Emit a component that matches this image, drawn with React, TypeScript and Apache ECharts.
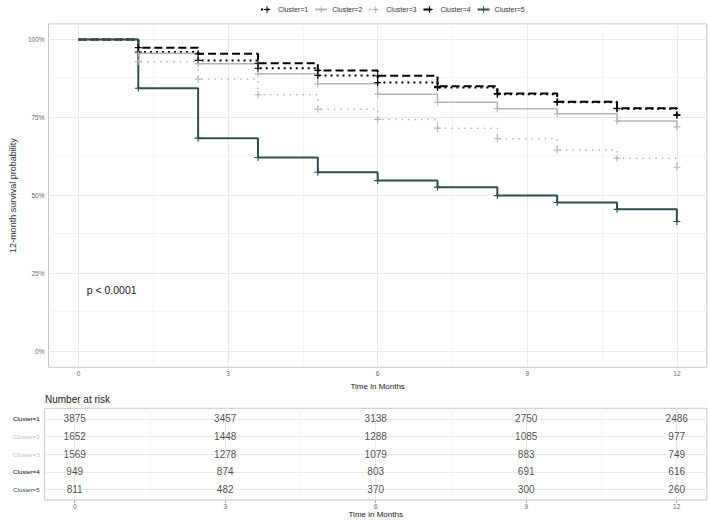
import React, { useEffect, useRef } from "react";
import * as echarts from "echarts";

// ---------- data ----------
const months = [0, 1.2, 2.4, 3.6, 4.8, 6, 7.2, 8.4, 9.6, 10.8, 12];
const cluster1 = [1, 0.96, 0.933, 0.908, 0.885, 0.862, 0.846, 0.825, 0.799, 0.778, 0.757];
const cluster2 = [1, 0.956, 0.922, 0.89, 0.858, 0.825, 0.799, 0.778, 0.762, 0.739, 0.72];
const cluster3 = [1, 0.929, 0.873, 0.823, 0.777, 0.744, 0.716, 0.682, 0.646, 0.62, 0.591];
const cluster4 = [1, 0.974, 0.954, 0.924, 0.901, 0.884, 0.85, 0.827, 0.801, 0.78, 0.759];
const cluster5 = [1, 0.844, 0.684, 0.622, 0.575, 0.548, 0.527, 0.5, 0.478, 0.456, 0.417];
const clusterNames = ["Cluster=1", "Cluster=2", "Cluster=3", "Cluster=4", "Cluster=5"];

const riskTimes = [0, 3, 6, 9, 12];
const risk1 = [3875, 3457, 3138, 2750, 2486];
const risk2 = [1652, 1448, 1288, 1085, 977];
const risk3 = [1569, 1278, 1079, 883, 749];
const risk4 = [949, 874, 803, 691, 616];
const risk5 = [811, 482, 370, 300, 260];

const xTicks = [0, 3, 6, 9, 12];
const xMinor = [1.5, 4.5, 7.5, 10.5];
const yTicks = [0, 0.25, 0.5, 0.75, 1];
const yMinor = [0.125, 0.375, 0.625, 0.875];
const riskRows = [1, 2, 3, 4, 5];

const pValueText = "p < 0.0001";
const riskTitle = "Number at risk";
const xTitle = "Time in Months";
const yTitle = "12-month survival probability";

// ---------- styles ----------
const FONT = "Liberation Sans, Arial, Helvetica, sans-serif";
const colors = ["#000000", "#B5B5B5", "#B5B5B5", "#000000", "#2F4F4F"];
const labelColors = ["#000000", "#BDBDBD", "#BDBDBD", "#000000", "#2F4F4F"];
const lineWidths = [2, 1.5, 1.5, 2, 2];
const lineTypes: any[] = [[2, 4], "solid", [1.5, 5], [8, 4], "solid"];
const PLUS = "path://M0,4.2H10V5.8H0Z M4.2,0H5.8V10H4.2Z";
const MAJOR = "#EBEBEB";
const MINOR = "#F5F5F5";

const G_LEFT = 44.6;
const G_RIGHT = 2.2;

function gridLines(xi: number, ys: number[], ysMinor: number[]) {
  const data: any[] = [];
  ysMinor.forEach((v) => data.push({ yAxis: v, lineStyle: { color: MINOR, width: 1, type: "solid" } }));
  xMinor.forEach((v) => data.push({ xAxis: v, lineStyle: { color: MINOR, width: 1, type: "solid" } }));
  ys.forEach((v) => data.push({ yAxis: v, lineStyle: { color: MAJOR, width: 1, type: "solid" } }));
  xTicks.forEach((v) => data.push({ xAxis: v, lineStyle: { color: MAJOR, width: 1, type: "solid" } }));
  return {
    type: "line",
    xAxisIndex: xi,
    yAxisIndex: xi,
    data: [],
    silent: true,
    z: 1,
    markLine: {
      silent: true,
      symbol: ["none", "none"],
      label: { show: false },
      z: 1,
      animation: false,
      data,
    },
  };
}

function xAxisCfg(gridIndex: number) {
  return {
    type: "value",
    gridIndex,
    min: -0.6,
    max: 12.6,
    axisLine: { show: false },
    splitLine: { show: false },
    axisTick: { show: true, customValues: xTicks, length: 3, lineStyle: { color: "#B3B3B3" } },
    axisLabel: { customValues: xTicks, fontSize: 6.5, color: "#666", margin: 3, fontFamily: FONT },
    name: xTitle,
    nameLocation: "middle",
    nameGap: 10,
    nameTextStyle: { fontSize: 8, color: "#1a1a1a", fontFamily: FONT },
  };
}

export default function App() {
  const ref = useRef<HTMLDivElement>(null);

  useEffect(() => {
    if (!ref.current) return;
    const chart = echarts.init(ref.current, undefined, { renderer: "svg" });
    const curves = [cluster1, cluster2, cluster3, cluster4, cluster5];
    const risks = [risk1, risk2, risk3, risk4, risk5];

    const kmSeries = curves.map((vals, k) => ({
      type: "line",
      name: clusterNames[k],
      xAxisIndex: 0,
      yAxisIndex: 0,
      step: "end",
      z: 3,
      symbol: PLUS,
      symbolSize: 7,
      showSymbol: true,
      showAllSymbol: true,
      data: months.map((t, i) => (i === 0 ? { value: [t, vals[i]], symbol: "none" } : [t, vals[i]])),
      lineStyle: { color: colors[k], width: lineWidths[k], type: lineTypes[k] },
      itemStyle: { color: colors[k] },
    }));

    const riskData: any[] = [];
    risks.forEach((arr, k) => {
      arr.forEach((n, j) => riskData.push([riskTimes[j], 5 - k, n]));
    });

    const rich: any = {};
    clusterNames.forEach((_, i) => {
      rich["c" + i] = { color: labelColors[i], fontSize: 6.2, fontFamily: FONT };
    });

    const option: any = {
      animation: false,
      textStyle: { fontFamily: FONT },
      grid: [
        { left: G_LEFT, right: G_RIGHT, top: 23.9, height: 343.4, show: true, borderColor: "#C8C8C8", borderWidth: 1 },
        { left: G_LEFT, right: G_RIGHT, top: 408.3, height: 91.7, show: true, borderColor: "#C8C8C8", borderWidth: 1 },
      ],
      legend: {
        data: clusterNames,
        top: 1,
        left: 255,
        itemWidth: 12,
        itemHeight: 8,
        itemGap: 6,
        textStyle: { fontSize: 7, color: "#333", fontFamily: FONT },
      },
      xAxis: [xAxisCfg(0), xAxisCfg(1)],
      yAxis: [
        {
          type: "value",
          gridIndex: 0,
          min: -0.05,
          max: 1.05,
          axisLine: { show: false },
          splitLine: { show: false },
          axisTick: { show: true, customValues: yTicks, length: 3, lineStyle: { color: "#B3B3B3" } },
          axisLabel: {
            customValues: yTicks,
            formatter: (v: number) => Math.round(v * 100) + "%",
            fontSize: 6.5,
            color: "#666",
            margin: 4,
            fontFamily: FONT,
          },
          name: yTitle,
          nameLocation: "middle",
          nameRotate: 90,
          nameGap: 31,
          nameTextStyle: { fontSize: 9, color: "#333", fontFamily: FONT },
        },
        {
          type: "value",
          gridIndex: 1,
          min: 0.4,
          max: 5.6,
          axisLine: { show: false },
          splitLine: { show: false },
          axisTick: { show: true, customValues: riskRows, length: 3, lineStyle: { color: "#B3B3B3" } },
          axisLabel: {
            customValues: riskRows,
            formatter: (v: number) => {
              const i = 5 - Math.round(v);
              return `{c${i}|${clusterNames[i]}}`;
            },
            rich,
            fontSize: 6.2,
            margin: 5,
          },
        },
      ],
      series: [
        gridLines(0, yTicks, yMinor),
        gridLines(1, riskRows, []),
        ...kmSeries,
        {
          type: "scatter",
          xAxisIndex: 1,
          yAxisIndex: 1,
          symbolSize: 1,
          itemStyle: { color: "rgba(0,0,0,0)" },
          silent: true,
          z: 4,
          data: riskData,
          label: {
            show: true,
            position: "inside",
            formatter: (p: any) => String(p.value[2]),
            fontSize: 10,
            color: "#1a1a1a",
            fontFamily: FONT,
          },
        },
      ],
      graphic: [
        {
          type: "text",
          x: 86.7,
          y: 290,
          style: { text: pValueText, fontSize: 10.5, fill: "#1a1a1a", fontFamily: FONT, verticalAlign: "middle" },
        },
        {
          type: "text",
          x: 45,
          y: 399,
          style: { text: riskTitle, fontSize: 10, fill: "#1a1a1a", fontFamily: FONT, verticalAlign: "middle" },
        },
      ],
    };

    chart.setOption(option);
    return () => chart.dispose();
  }, []);

  return (
    <div
      ref={ref}
      style={{ position: "fixed", left: 0, top: 0, width: 709, height: 522, background: "#fff" }}
    />
  );
}
